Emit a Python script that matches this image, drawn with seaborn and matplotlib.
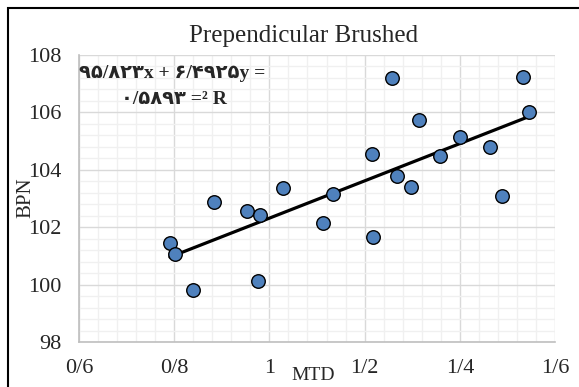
import matplotlib
matplotlib.use("Agg")
import matplotlib.pyplot as plt
import seaborn as sns
import numpy as np
import pandas as pd
from matplotlib.ticker import MultipleLocator, FixedLocator
from matplotlib.patches import Rectangle

mtd = [0.791, 0.802, 0.840, 0.884, 0.952, 0.980, 0.975, 1.028, 1.113, 1.133,
       1.215, 1.218, 1.269, 1.297, 1.258, 1.315, 1.358, 1.400, 1.463, 1.488,
       1.533, 1.545]
bpn = [101.44, 101.05, 99.82, 102.88, 102.56, 102.44, 100.14, 103.38, 102.16, 103.15,
       104.55, 101.65, 103.78, 103.40, 107.19, 105.72, 104.49, 105.16, 104.78, 103.09,
       107.24, 106.01]
slope = 6.4925
intercept = 95.823
x_ticks = [0.6, 0.8, 1.0, 1.2, 1.4, 1.6]
x_tick_labels = ["0/6", "0/8", "1", "1/2", "1/4", "1/6"]
y_ticks = [98, 100, 102, 104, 106, 108]
title = "Prependicular Brushed"
eq_line1 = "\u06f9\u06f5/\u06f8\u06f2\u06f3x + \u06f6/\u06f4\u06f9\u06f2\u06f5y ="
eq_line2 = "\u06f0/\u06f5\u06f8\u06f9\u06f3 =\u00b2 R"

df = pd.DataFrame({"MTD": mtd, "BPN": bpn})

sns.set_theme(style="white")
plt.rcParams["font.family"] = ["Liberation Serif", "DejaVu Sans"]

fig = plt.figure(figsize=(5.79, 3.87), dpi=100)
ax = fig.add_axes([79/579, 1 - 342/387, (555-79)/579, (342-55)/387])

xs = np.array([min(mtd), max(mtd)])
ax.plot(xs, slope * xs + intercept, color="black", lw=2.3, zorder=3)
sns.scatterplot(data=df, x="MTD", y="BPN", ax=ax, s=95, color="#4f81bd",
                edgecolor="black", linewidth=1.0, zorder=4, legend=False)

ax.set_xlim(0.6, 1.6)
ax.set_ylim(98, 108)
ax.xaxis.set_major_locator(FixedLocator(x_ticks))
ax.set_xticklabels(x_tick_labels)
ax.yaxis.set_major_locator(FixedLocator(y_ticks))
ax.set_yticklabels([str(v) for v in y_ticks])
ax.xaxis.set_minor_locator(MultipleLocator(0.04))
ax.yaxis.set_minor_locator(MultipleLocator(0.4))
ax.grid(which="major", color="#d9d9d9", lw=1.0, zorder=0)
ax.grid(which="minor", color="#f0f0f0", lw=1.0, zorder=0)
ax.set_axisbelow(True)
for s in ["top", "right"]:
    ax.spines[s].set_visible(False)
for s in ["left", "bottom"]:
    ax.spines[s].set_color("#bfbfbf")
    ax.spines[s].set_linewidth(1.2)
ax.tick_params(axis="x", which="major", direction="out", length=3, color="#bfbfbf",
               pad=9.5, labelsize=16)
ax.tick_params(axis="y", which="major", direction="out", length=5, color="#bfbfbf",
               pad=7.5, labelsize=16)
ax.tick_params(which="minor", length=0)

ax.set_xlabel("")
ax.set_ylabel("")
fig.text(313/579, 1 - 376/387, "MTD", ha="center", va="center", fontsize=14)
fig.text(25.5/579, 1 - 198/387, "BPN", ha="center", va="center", fontsize=15, rotation=90)
fig.text(304/579, 1 - 36/387, title, ha="center", va="center", fontsize=18)

fig.text(172/579, 1 - 73/387, eq_line1, ha="center", va="center", fontsize=14,
         fontweight="bold")
fig.text(174/579, 1 - 100/387, eq_line2, ha="center", va="center", fontsize=14,
         fontweight="bold")

fig.patches.append(Rectangle((8/579, -0.1), 1.2, 1 - 8/387 + 0.1, transform=fig.transFigure,
                             fill=False, edgecolor="black", lw=1.5, zorder=10))

fig.savefig("out.png", dpi=100)
